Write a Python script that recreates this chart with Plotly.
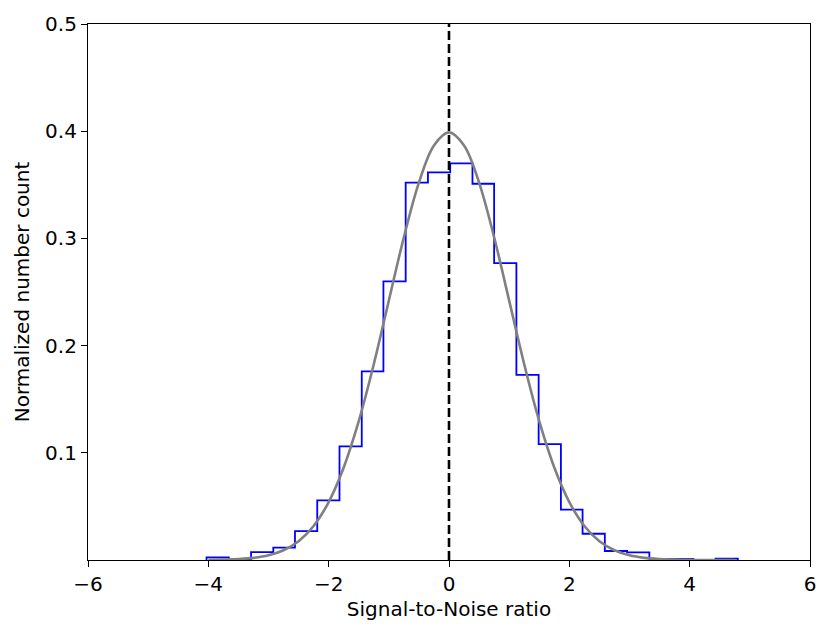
import plotly.graph_objects as go

# Histogram bin edges (24 bins)
bin_edges = [-4.03, -3.66, -3.29, -2.92, -2.56, -2.19, -1.82, -1.45, -1.09, -0.72,
             -0.35, 0.02, 0.39, 0.75, 1.12, 1.49, 1.86, 2.22, 2.59, 2.96,
             3.33, 3.70, 4.06, 4.43, 4.80]
# Normalized counts per bin
bin_heights = [0.0025, 0.0, 0.0074, 0.0115, 0.027, 0.0557, 0.106, 0.176, 0.260, 0.352,
               0.3615, 0.370, 0.351, 0.277, 0.1726, 0.108, 0.047, 0.0245, 0.0084, 0.0071,
               0.001, 0.001, 0.0, 0.0012]

# Reference Gaussian curve
curve_x = [-4.0, -3.75, -3.5, -3.25, -3.0, -2.75, -2.5, -2.25, -2.0, -1.75, -1.5, -1.25,
           -1.0, -0.75, -0.5, -0.25, 0.0, 0.25, 0.5, 0.75, 1.0, 1.25, 1.5, 1.75,
           2.0, 2.25, 2.5, 2.75, 3.0, 3.25, 3.5, 3.75, 4.0, 4.25, 4.5, 4.75]
curve_y = [0.0001, 0.0004, 0.0009, 0.0020, 0.0044, 0.0091, 0.0175, 0.0317, 0.0540, 0.0863,
           0.1295, 0.1826, 0.2420, 0.3011, 0.3521, 0.3867, 0.3989, 0.3867, 0.3521, 0.3011,
           0.2420, 0.1826, 0.1295, 0.0863, 0.0540, 0.0317, 0.0175, 0.0091, 0.0044, 0.0020,
           0.0009, 0.0004, 0.0001, 0.00005, 0.00002, 0.00001]

mean_line_x = 0.0

x_ticks = [-6, -4, -2, 0, 2, 4, 6]
y_ticks = [0.1, 0.2, 0.3, 0.4, 0.5]

step_x = [bin_edges[0]] + bin_edges
step_y = [0.0] + bin_heights + [0.0]

fig = go.Figure()
fig.add_trace(go.Scatter(x=step_x, y=step_y, mode="lines", line_shape="hv",
                         line=dict(color="#0000ff", width=1.8), showlegend=False,
                         hoverinfo="skip"))
fig.add_trace(go.Scatter(x=curve_x, y=curve_y, mode="lines", line_shape="spline",
                         line=dict(color="#808080", width=2.6), showlegend=False))
fig.add_trace(go.Scatter(x=[mean_line_x, mean_line_x], y=[0, 0.5], mode="lines",
                         line=dict(color="black", width=2.6, dash="9px,4px"),
                         showlegend=False))

font = dict(family="DejaVu Sans", size=20, color="black")
fig.update_layout(
    width=831, height=636,
    margin=dict(l=88, r=21, t=22, b=76),
    paper_bgcolor="white", plot_bgcolor="white",
    font=font,
    xaxis=dict(range=[-6, 6], tickvals=x_ticks, showgrid=False, zeroline=False,
               showline=True, mirror=True, linecolor="black", linewidth=1.2,
               ticks="outside", ticklen=6, tickwidth=1.2, tickcolor="black",
               title=dict(text="Signal-to-Noise ratio", font=font, standoff=6),
               tickfont=font),
    yaxis=dict(range=[0, 0.5], tickvals=y_ticks, showgrid=False, zeroline=False,
               showline=True, mirror=True, linecolor="black", linewidth=1.2,
               ticks="outside", ticklen=6, tickwidth=1.2, tickcolor="black",
               title=dict(text="Normalized number count", font=font, standoff=10),
               tickfont=font),
)

fig.write_html("out.html", config={"displayModeBar": False},
               post_script="document.body.style.margin='0px';")
